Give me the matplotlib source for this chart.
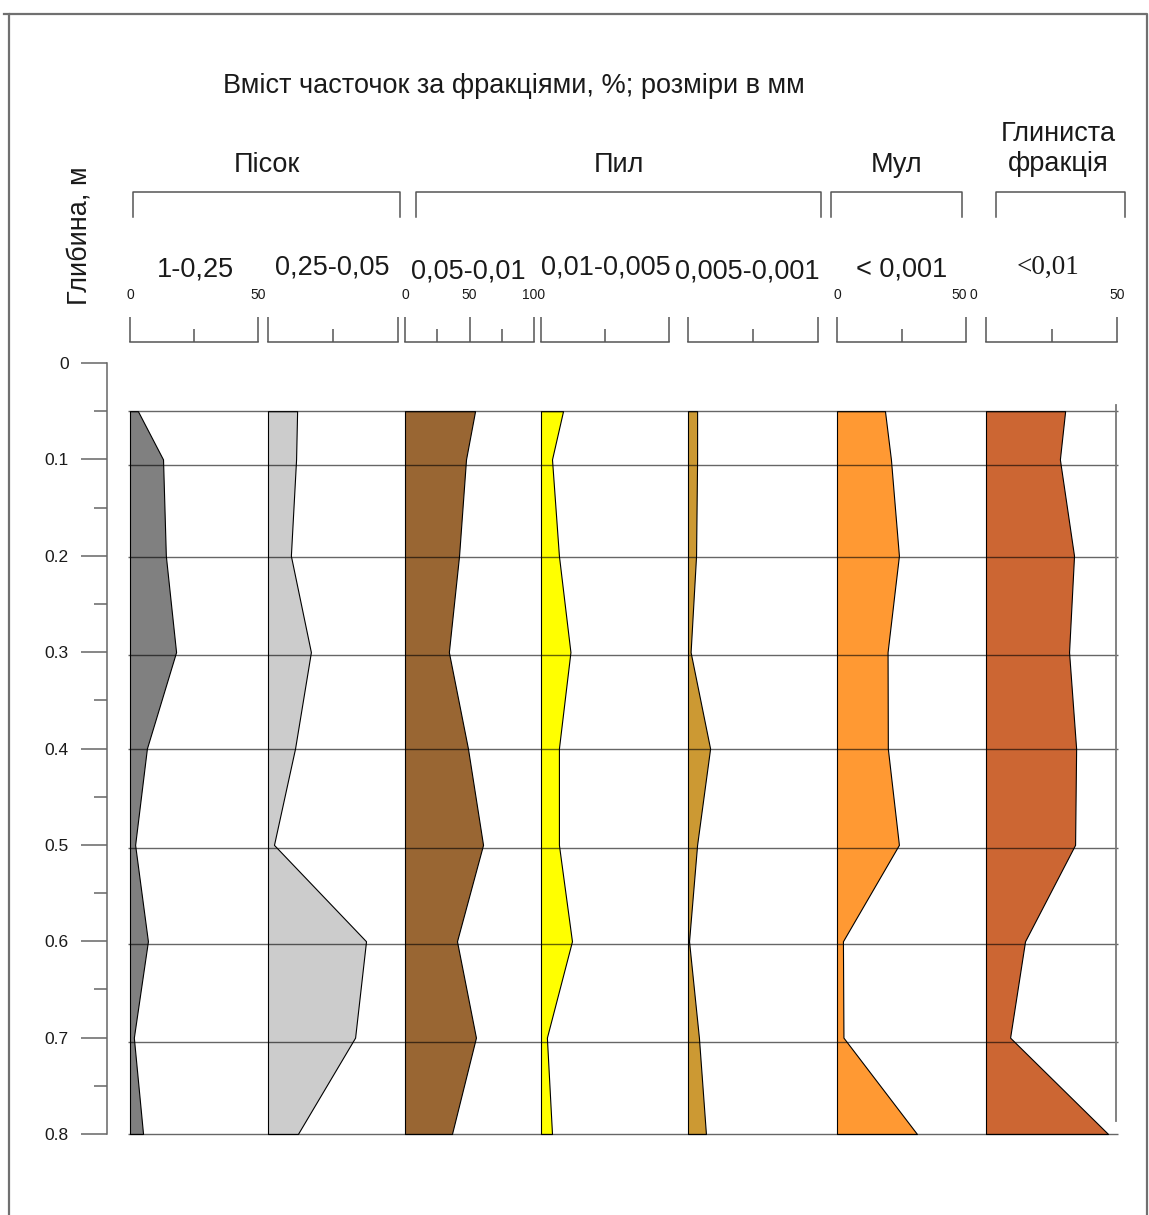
import numpy as np
import matplotlib
matplotlib.use("Agg")
import matplotlib.pyplot as plt

plt.rcParams['font.family'] = ['Liberation Sans', 'DejaVu Sans']

# depths of the samples, m
depth = [0.05, 0.1, 0.2, 0.3, 0.4, 0.5, 0.6, 0.7, 0.8]
# depths of the layer boundary lines, m
boundaries = [0.05, 0.106, 0.201, 0.303, 0.401, 0.503, 0.603, 0.705, 0.8]

# content of fractions, %
sand_1_025 = [3.1, 12.9, 14.0, 18.0, 6.6, 2.0, 7.0, 1.5, 5.1]
sand_025_005 = [11.2, 10.8, 8.8, 16.5, 10.4, 2.3, 37.7, 33.5, 11.5]
silt_005_001 = [54.3, 47.3, 41.9, 34.0, 48.8, 60.5, 40.3, 55.0, 36.4]
silt_001_0005 = [8.6, 4.3, 7.0, 11.5, 7.0, 7.0, 12.1, 2.3, 4.3]
silt_0005_0001 = [3.5, 3.5, 3.1, 1.0, 8.5, 3.5, 0.4, 4.2, 6.9]
mud_0001 = [18.6, 20.9, 24.0, 19.6, 19.7, 24.0, 2.3, 2.5, 31.0]
clay_001 = [30.2, 28.2, 33.6, 31.7, 34.4, 34.0, 14.9, 9.2, 46.6]

fraction_names = ['1-0,25', '0,25-0,05', '0,05-0,01', '0,01-0,005',
                  '0,005-0,001', '< 0,001', '<0,01']
fraction_values = [sand_1_025, sand_025_005, silt_005_001, silt_001_0005,
                   silt_0005_0001, mud_0001, clay_001]
scale_max = [50, 50, 100, 50, 50, 50, 50]
colors = ['#808080', '#cccccc', '#996633', '#ffff00', '#cc9933', '#ff9933', '#cc6633']

depth_ticks = [0, 0.1, 0.2, 0.3, 0.4, 0.5, 0.6, 0.7, 0.8]
depth_labels = ['0', '0.1', '0.2', '0.3', '0.4', '0.5', '0.6', '0.7', '0.8']

# layout (pixels)
W, H = 1149, 1215
TOP, BOT = 363, 1134
col_px = [(130, 258), (268, 398), (405, 534), (541, 669), (688, 818), (837, 966), (986, 1117)]
label_pos = [(195, 270), (332, 267), (468, 271), (606, 268), (747, 272), (902, 269), (1048, 267)]
FS = 19.5
TXT = '#1a1a1a'


def rect(x0, y0, x1, y1):
    return [x0 / W, 1 - y1 / H, (x1 - x0) / W, (y1 - y0) / H]


fig = plt.figure(figsize=(W / 100, H / 100), dpi=100)

# background: frame, title, group brackets
bg = fig.add_axes([0, 0, 1, 1])
bg.set_xlim(0, W)
bg.set_ylim(H, 0)
bg.axis('off')
bg.plot([9, 9, 1147, 1147], [H, 14, 14, H], color='#707070', lw=1.6)
bg.plot([4, 9], [14, 14], color='#707070', lw=1.6)

bg.text(514, 86, 'Вміст часточок за фракціями, %; розміри в мм', fontsize=FS,
        ha='center', va='center', color=TXT)
bg.text(80, 236, 'Глибина, м', fontsize=FS, rotation=90, ha='center', va='center',
        color=TXT)

groups = [('Пісок', 133, 400), ('Пил', 416, 821), ('Мул', 831, 962), ('', 996, 1125)]
for name, x0, x1 in groups:
    bg.plot([x0, x0, x1, x1], [217, 192, 192, 217], color='#555555', lw=1.1)
    if name:
        bg.text((x0 + x1) / 2, 165, name, fontsize=FS, ha='center', va='center',
                color=TXT)
bg.text(1058, 134, 'Глиниста', fontsize=FS, ha='center', va='center', color=TXT)
bg.text(1058, 164, 'фракція', fontsize=FS, ha='center', va='center', color=TXT)

for i, name in enumerate(fraction_names):
    fam = ['Liberation Serif'] if name == '<0,01' else ['Liberation Sans']
    bg.text(label_pos[i][0], label_pos[i][1], name, fontsize=FS, ha='center',
            va='center', family=fam, color=TXT)

# scale bars above each column
scale_labels = {0: [0, 50], 2: [0, 50, 100], 5: [0, 50], 6: [0, 50]}
label_shift = {(5, 50): -2.7, (6, 0): -5.0}
for i, (x0, x1) in enumerate(col_px):
    sm = scale_max[i]
    hx = fig.add_axes(rect(x0, 317, x1, 342))
    hx.set_xlim(0, sm)
    hx.set_ylim(0, 1)
    hx.axis('off')
    hx.plot([0, sm], [0, 0], color='#555555', lw=1.1, clip_on=False)
    hx.vlines([0, sm], 0, 1, color='#555555', lw=1.1, clip_on=False)
    if sm == 100:
        hx.vlines([50], 0, 1, color='#555555', lw=1.1)
        hx.vlines([25, 75], 0, 0.5, color='#555555', lw=1.1)
    else:
        hx.vlines([sm / 2], 0, 0.5, color='#555555', lw=1.1)
    for v in scale_labels.get(i, []):
        dx = label_shift.get((i, v), 0)
        hx.text(v + dx, 1.88, str(v), fontsize=10, ha='center', va='center',
                color=TXT, clip_on=False)

# depth axis
ax = fig.add_axes(rect(107, TOP, 1117, BOT))
ax.set_ylim(0.8, 0)
ax.set_xlim(0, 1)
ax.patch.set_visible(False)
for s in ['top', 'right', 'bottom']:
    ax.spines[s].set_visible(False)
ax.spines['left'].set_color('#666666')
ax.spines['left'].set_linewidth(1.1)
ax.set_xticks([])
ax.set_yticks(depth_ticks)
ax.set_yticklabels(depth_labels)
ax.set_yticks(np.arange(0.05, 0.8, 0.1), minor=True)
ax.tick_params(axis='y', which='major', length=18.7, width=1.1, color='#666666',
               pad=9, labelsize=12.5, labelcolor=TXT)
ax.tick_params(axis='y', which='minor', length=9.4, width=1.1, color='#666666')

# profile of each fraction
for i, (x0, x1) in enumerate(col_px):
    cax = fig.add_axes(rect(x0, TOP, x1, BOT))
    cax.set_xlim(0, scale_max[i])
    cax.set_ylim(0.8, 0)
    cax.axis('off')
    cax.fill_betweenx(depth, 0, fraction_values[i], facecolor=colors[i],
                      edgecolor='black', lw=0.8, clip_on=False)

# layer boundaries on top
lax = fig.add_axes(rect(107, TOP, 1117, BOT))
lax.set_xlim(107, 1117)
lax.set_ylim(0.8, 0)
lax.axis('off')
lax.hlines(boundaries, 128, 1118, color='black', alpha=0.6, lw=1.0, clip_on=False)
lax.plot([1116, 1116], [0.044, 0.786], color='#777777', lw=1.3, clip_on=False)

fig.savefig('out.png', dpi=100)
